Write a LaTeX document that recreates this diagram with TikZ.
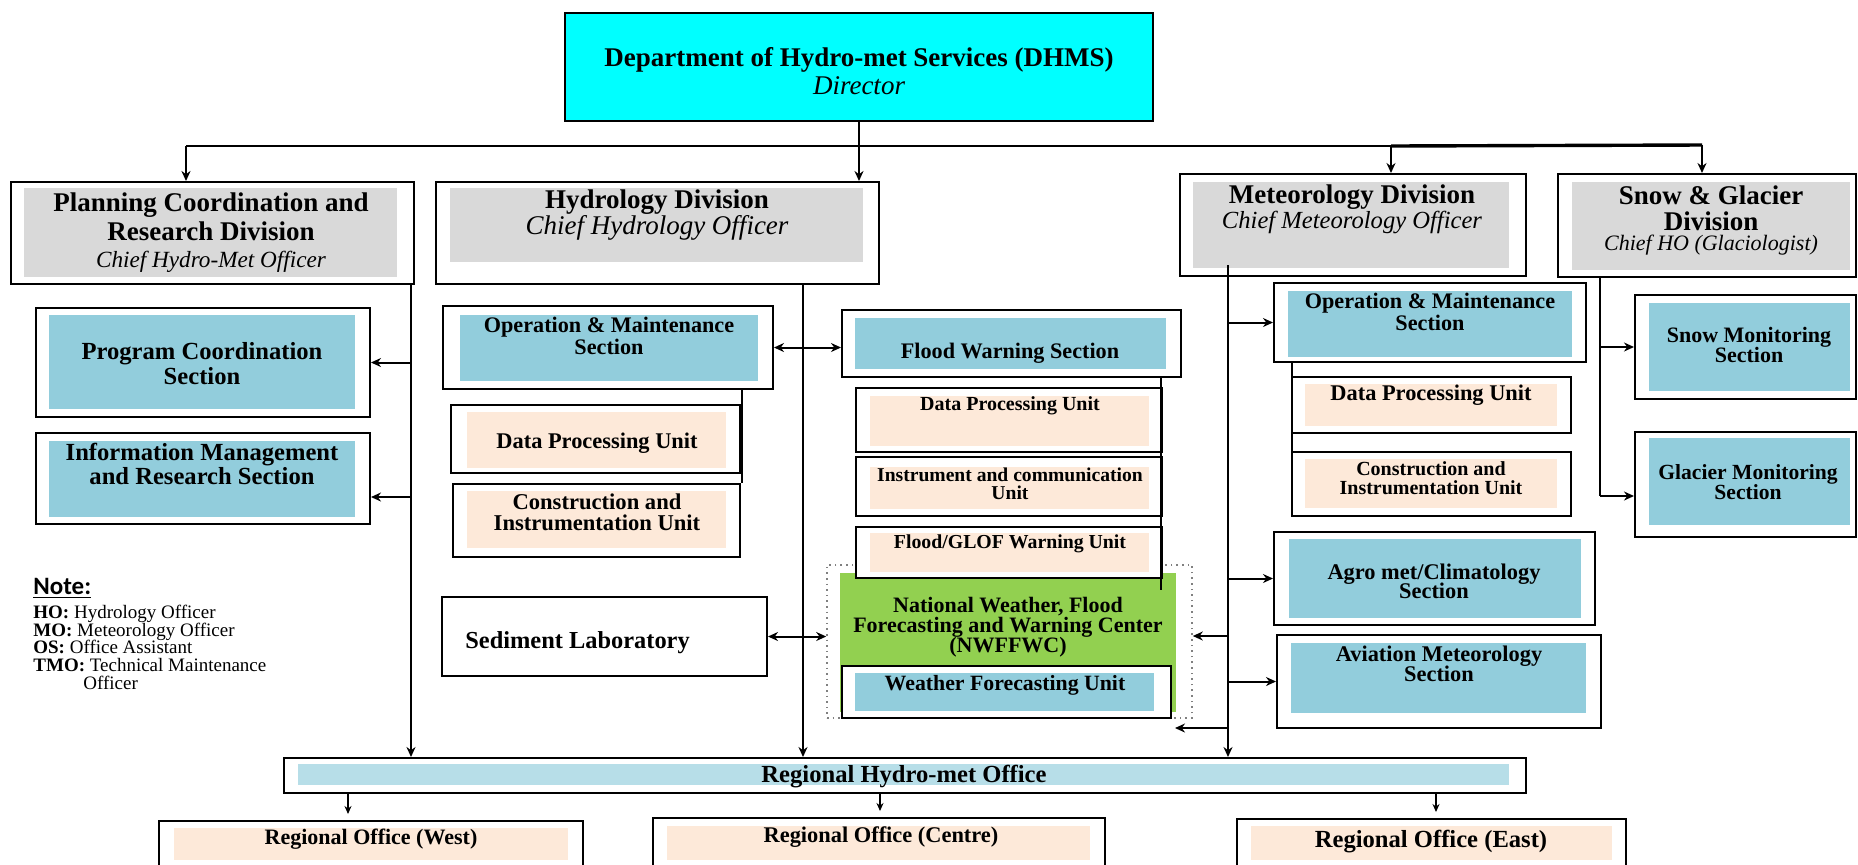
\documentclass[tikz,border=0pt]{standalone}
\usepackage{fontspec}
\setmainfont{Liberation Serif}
\newfontfamily\notefont{Carlito}
\usetikzlibrary{arrows.meta,fit}
\definecolor{dhmscyan}{RGB}{0,255,255}
\definecolor{divgray}{RGB}{217,217,217}
\definecolor{secblue}{RGB}{146,205,220}
\definecolor{unitpeach}{RGB}{253,233,217}
\definecolor{centregreen}{RGB}{146,208,80}
\definecolor{regblue}{RGB}{183,222,232}
\newcommand{\setfs}[2]{\fontsize{#1}{#2}\selectfont\lineskiplimit=-\maxdimen}
\tikzset{
    orgbox/.style={
            draw,
            fill={#1},
            line width=1pt,
            inner sep=0pt % fit exactly
        },
    orgbox/.default={white}
}
\tikzset{
    infill/.style={
            fill={#1},
            inner sep=0pt
        },
    infill/.default={secblue}
}
\tikzset{
    txt/.style 2 args={
            align=center,
            inner sep=0pt,
            font={\bfseries\setfs{#1}{#2}}
        },
    officer/.style={
            inner sep=0pt,
            font={\itshape\setfs{#1}{#1}}
        }
}
\tikzset{
    conn/.style={
            line width=1pt
        },
    branch/.style={
            line width=1pt,
            -{Stealth[length=5pt,width=4.5pt]}
        },
    dual/.style={
            line width=1pt,
            {Stealth[length=5pt,width=4.5pt]}-{Stealth[length=5pt,width=4.5pt]}
        },
    subarrow/.style={
            line width=0.6pt,
            -{Stealth[length=4pt,width=3.5pt]},
            shorten >=3pt
        }
}
% outer frame, inner colour band
\newcommand{\panel}[4]{%
    \node[orgbox, fit={#2}] (#1) {};
    \node[infill=#3, fit={#4}] (#1in) {};
}

\begin{document}
\begin{tikzpicture}[x=0.5pt, y=-0.5pt]
    \useasboundingbox (0,0) rectangle (1858,864);
    %
    % top level
    \node[orgbox=dhmscyan, fit={(565,13) (1153,121)}] (dhms) {};
    \node[txt={13.5}{14}] (dhmst) at (859,60) {Department of Hydro-met Services (DHMS)};
    \node[officer=13.5] (dhmsd) at (859,86) {Director};
    %
    % divisions
    \panel{plan}{(11,182) (414,284)}{divgray}{(24,188) (397,277)}
    \node[txt={13.5}{14.5}] (plant) at (211,216.5) {Planning Coordination and\\Research Division};
    \node[officer=11.6] (plano) at (211,262) {Chief Hydro-Met Officer};
    \panel{hydro}{(436,182) (879,284)}{divgray}{(450,188) (863,262)}
    \node[txt={13.5}{14}] (hydrot) at (657,202) {Hydrology Division};
    \node[officer=13.5] (hydroo) at (657,228) {Chief Hydrology Officer};
    \panel{met}{(1180,174) (1526,276)}{divgray}{(1193,182) (1509,268)}
    \node[txt={13.5}{14}] (mett) at (1352,197) {Meteorology Division};
    \node[officer=12.3] (meto) at (1352,222) {Chief Meteorology Officer};
    \panel{snow}{(1558,174) (1856,277)}{divgray}{(1572,182) (1850,270)}
    \node[txt={13.5}{13}] (snowt) at (1711,208) {Snow \& Glacier\\Division};
    \node[officer=11] (snowo) at (1711,245) {Chief HO (Glaciologist)};
    %
    % planning sections
    \panel{pcs}{(36,308) (370,417)}{secblue}{(49,315) (355,409)}
    \node[txt={12.3}{12.5}] (pcst) at (202,363.5) {Program Coordination\\Section};
    \panel{ims}{(36,433) (370,524)}{secblue}{(49,441) (355,517)}
    \node[txt={12.3}{12}] (imst) at (202,464) {Information Management\\and Research Section};
    %
    % hydrology sections and units
    \panel{hom}{(443,306) (773,389)}{secblue}{(460,315) (758,381)}
    \node[txt={11.1}{11}] (homt) at (609,336) {Operation \& Maintenance\\Section};
    \panel{hdp}{(451,405) (740,473)}{unitpeach}{(467,412) (726,468)}
    \node[txt={11.2}{12}] (hdpt) at (597,443) {Data Processing Unit};
    \panel{hcu}{(453,484) (740,557)}{unitpeach}{(467,491) (726,548)}
    \node[txt={11.3}{10.5}] (hcut) at (597,512.5) {Construction and\\Instrumentation Unit};
    \node[orgbox, fit={(442,597) (767,676)}] (sed) {};
    \node[txt={12.2}{12}, anchor=west] (sedt) at (465,643) {Sediment Laboratory};
    \panel{fws}{(842,310) (1181,377)}{secblue}{(855,318) (1166,369)}
    \node[txt={11.1}{12}] (fwst) at (1010,353) {Flood Warning Section};
    \panel{fdp}{(856,388) (1162,452)}{unitpeach}{(870,396) (1149,446)}
    \node[txt={10}{10}] (fdpt) at (1010,406) {Data Processing Unit};
    \panel{fic}{(856,457) (1162,516)}{unitpeach}{(870,467) (1149,509)}
    \node[txt={9.8}{9}] (fict) at (1010,484) {Instrument and communication\\Unit};
    %
    % forecasting centre
    \node[draw=gray, dotted, line width=0.8pt, inner sep=0pt, fit={(827,565) (1192,718)}] (nwf) {};
    \node[infill=centregreen, fit={(840,573) (1176,712)}] (nwfin) {};
    \node[txt={11}{10}] (nwft) at (1008,627) {National Weather, Flood\\Forecasting and Warning Center\\(NWFFWC)};
    \panel{fgw}{(856,527) (1162,578)}{unitpeach}{(870,533) (1149,572)}
    \node[txt={9.9}{10}] (fgwt) at (1010,544) {Flood/GLOF Warning Unit};
    \panel{wfu}{(842,666) (1171,718)}{secblue}{(855,673) (1154,711)}
    \node[txt={10.9}{11}] (wfut) at (1005,685) {Weather Forecasting Unit};
    %
    % meteorology sections and units
    \panel{mom}{(1274,283) (1586,362)}{secblue}{(1288,291) (1572,357)}
    \node[txt={11.1}{11}] (momt) at (1430,312) {Operation \& Maintenance\\Section};
    \panel{mdp}{(1292,377) (1571,433)}{unitpeach}{(1305,384) (1557,426)}
    \node[txt={11.2}{12}] (mdpt) at (1431,395) {Data Processing Unit};
    \panel{mcu}{(1292,452) (1571,516)}{unitpeach}{(1305,459) (1557,508)}
    \node[txt={10}{9.5}] (mcut) at (1431,478.5) {Construction and\\Instrumentation Unit};
    \panel{agro}{(1274,532) (1595,625)}{secblue}{(1289,539) (1581,618)}
    \node[txt={11.2}{9.5}] (agrot) at (1434,581.5) {Agro met/Climatology\\Section};
    \panel{avi}{(1277,635) (1601,728)}{secblue}{(1291,643) (1586,713)}
    \node[txt={11.2}{10}] (avit) at (1439,664) {Aviation Meteorology\\Section};
    %
    % snow and glacier sections
    \panel{smon}{(1635,295) (1856,399)}{secblue}{(1649,303) (1850,391)}
    \node[txt={11}{10}] (smont) at (1749,345) {Snow Monitoring\\Section};
    \panel{gmon}{(1635,432) (1856,537)}{secblue}{(1649,438) (1850,525)}
    \node[txt={10.8}{10}] (gmont) at (1748,482) {Glacier Monitoring\\Section};
    %
    % regional offices
    \panel{rho}{(284,758) (1526,793)}{regblue}{(298,764) (1509,785)}
    \node[txt={12.3}{12}] (rhot) at (904,777) {Regional Hydro-met Office};
    \panel{rw}{(159,821) (583,872)}{unitpeach}{(174,828) (568,860)}
    \node[txt={11}{11}] (rwt) at (371,839) {Regional Office (West)};
    \panel{rc}{(653,818) (1105,872)}{unitpeach}{(667,826) (1090,860)}
    \node[txt={11.2}{11}] (rct) at (881,837) {Regional Office (Centre)};
    \panel{re}{(1237,819) (1626,872)}{unitpeach}{(1251,826) (1612,860)}
    \node[txt={12.3}{12}] (ret) at (1431,842) {Regional Office (East)};
    %
    % note
    \node[anchor=west, inner sep=0pt, font={\notefont\bfseries\setfs{12.5}{13}}] (notet) at (33,588) {\underline{Note:}};
    \node[anchor=north west, align=left, inner sep=0pt, font={\setfs{9.5}{8.8}}] (notel) at (33,605)
    {\textbf{HO:} Hydrology Officer\\\textbf{MO:} Meteorology Officer\\\textbf{OS:} Office Assistant\\\textbf{TMO:} Technical Maintenance\\\hspace*{25pt}Officer};
    %
    % connectors
    \coordinate (busl) at (186,146);
    \coordinate (busm) at (1391,146);
    \coordinate (busr) at (1702,145);
    \draw[conn] (busl) -- (busm);
    \draw[conn, line width=1.7pt] (busm) -- (busr);
    \draw[branch] (busl) -- (plan.north -| busl);
    \draw[branch] (dhms.south) -- (hydro.north -| dhms.south);
    \draw[branch] (busm) -- (met.north -| busm);
    \draw[branch] (busr) -- (snow.north -| busr);
    %
    \coordinate (plx) at (411,0);
    \coordinate (plims) at (411,497);
    \draw[branch] (plan.south -| plx) -- (rho.north -| plx);
    \draw[branch] (pcs.east -| plx) -- (pcs.east);
    \draw[branch] (plims) -- (ims.east |- plims);
    %
    \coordinate (hyx) at (803,0);
    \coordinate (homx) at (742,0);
    \coordinate (fwsx) at (1161,0);
    \coordinate (fwsend) at (1161,590);
    \draw[branch] (hydro.south -| hyx) -- (rho.north -| hyx);
    \draw[dual] (hom.east) -- (fws.west |- hom.east);
    \draw[dual] (sed.east) -- (nwf.west |- sed.east);
    \draw[line width=0.6pt] (hom.south -| homx) -- (hcu.north -| homx);
    \draw[line width=0.6pt] (fws.south -| fwsx) -- (fwsend);
    %
    \coordinate (mtop) at (1228,265);
    \coordinate (mtnwf) at (1228,636);
    \coordinate (mtlow) at (1228,728);
    \coordinate (mtlowend) at (1175,728);
    \coordinate (momx) at (1292,0);
    \draw[branch] (mtop) -- (rho.north -| mtop);
    \draw[branch] (mom.west -| mtop) -- (mom.west);
    \draw[branch] (agro.west -| mtop) -- (agro.west);
    \draw[branch] (avi.west -| mtop) -- (avi.west);
    \draw[branch] (mtnwf) -- (nwf.east |- mtnwf);
    \draw[branch] (mtlow) -- (mtlowend);
    \draw[line width=0.6pt] (mom.south -| momx) -- (mcu.north -| momx);
    %
    \coordinate (snx) at (1600,0);
    \coordinate (snend) at (1600,496);
    \draw[conn] (snow.south -| snx) -- (snend);
    \draw[branch] (smon.west -| snx) -- (smon.west);
    \draw[branch] (snend) -- (gmon.west |- snend);
    %
    \coordinate (rwx) at (348,0);
    \coordinate (rcx) at (880,0);
    \coordinate (rex) at (1436,0);
    \draw[subarrow] (rho.south -| rwx) -- (rw.north -| rwx);
    \draw[subarrow] (rho.south -| rcx) -- (rc.north -| rcx);
    \draw[subarrow] (rho.south -| rex) -- (re.north -| rex);
\end{tikzpicture}
\end{document}
